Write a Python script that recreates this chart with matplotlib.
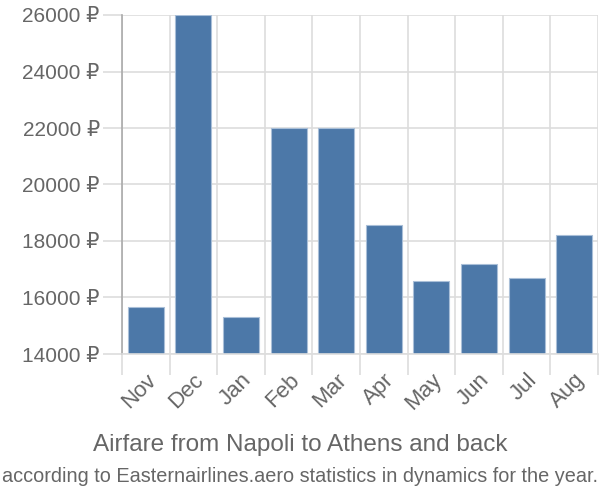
import numpy as np
import matplotlib.pyplot as plt

plt.rcParams['font.family'] = ['Liberation Sans', 'DejaVu Sans']

months = ['Nov', 'Dec', 'Jan', 'Feb', 'Mar', 'Apr', 'May', 'Jun', 'Jul', 'Aug']
prices = [15680, 26000, 15320, 22000, 22000, 18560, 16600, 17170, 16700, 18200]
yticks = [14000, 16000, 18000, 20000, 22000, 24000, 26000]

grey = '#666666'
grid_c = '#dddddd'

fig = plt.figure(figsize=(6, 5), dpi=100)
ax = fig.add_axes([122/600, 1-354/500, 476/600, 339/500])

x = np.arange(len(months))
ax.bar(x, prices, width=0.76, color='#4c78a8', edgecolor='#a9bfd8', linewidth=0.8, zorder=2)

ax.set_xlim(-0.5, len(months) - 0.5)
ax.set_ylim(14000, 26000)
ax.set_yticks(yticks)
ax.set_yticklabels([f'{v} ₽' for v in yticks], color=grey, fontsize=15)

# vertical grid at category boundaries
ax.set_xticks(np.arange(len(months) + 1) - 0.5, minor=True)
ax.set_xticks(x)
ax.set_xticklabels(months, rotation=45, ha='right', rotation_mode='anchor', color=grey, fontsize=16)
ax.tick_params(axis='x', which='major', length=0, pad=11)
ax.tick_params(axis='x', which='minor', length=15, color=grid_c, width=1.2)
ax.tick_params(axis='y', length=14, color=grid_c, width=1.2, pad=2)
ax.grid(True, which='minor', axis='x', color=grid_c, linewidth=1.2, zorder=0)
ax.grid(True, which='major', axis='y', color=grid_c, linewidth=1.2, zorder=0)

for s in ['top', 'right']:
    ax.spines[s].set_visible(False)
ax.spines['bottom'].set_color(grid_c)
ax.spines['bottom'].set_linewidth(1.2)
ax.spines['left'].set_color('#aaaaaa')
ax.spines['left'].set_linewidth(1.2)

fig.text(0.5, 1-445/500, 'Airfare from Napoli to Athens and back', ha='center', va='center',
         color=grey, fontsize=17.5)
fig.text(0.5, 1-476/500, 'according to Easternairlines.aero statistics in dynamics for the year.',
         ha='center', va='center', color=grey, fontsize=14.3)

fig.savefig('out.png', dpi=100)
